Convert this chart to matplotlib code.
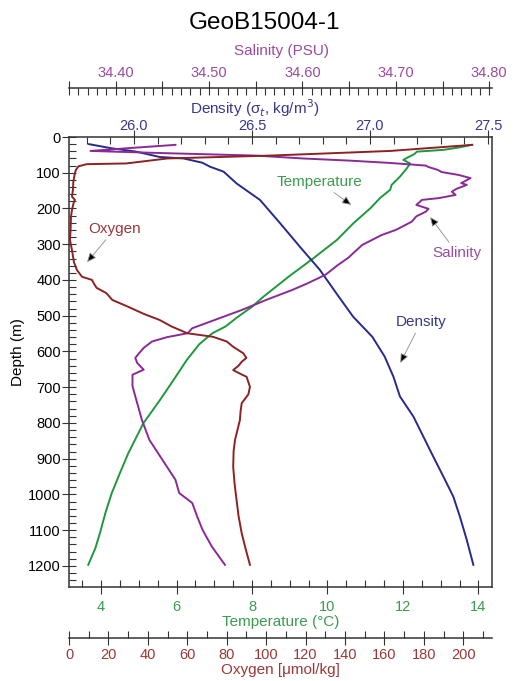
import numpy as np
import matplotlib
matplotlib.use('Agg')
import matplotlib.pyplot as plt
from matplotlib.ticker import MultipleLocator, FormatStrFormatter

plt.rcParams['font.family'] = ['Liberation Sans', 'DejaVu Sans']

# CTD cast GeoB15004-1, values per depth (m)
tem_depth = [22, 29, 36, 41, 48, 56, 64, 74, 88, 111, 134, 148, 170, 200, 241, 288, 339, 390, 447, 475,
             505, 530, 549, 580, 624, 680, 736, 801, 885, 940, 997, 1050, 1108, 1150, 1197]
tem = [13.82, 13.5, 13.07, 12.37, 12.3, 12.15, 12.01, 12.19, 12.1, 11.92, 11.7, 11.66, 11.4, 11.13, 10.69,
       10.25, 9.63, 8.98, 8.30, 8.0, 7.6, 7.3, 6.95, 6.6, 6.27, 5.92, 5.56, 5.12, 4.72, 4.5, 4.28, 4.12,
       3.97, 3.85, 3.66]

sal_depth = [22, 30, 39, 45, 52, 60, 66, 72, 76, 80, 84, 92, 98, 106, 115, 122, 129, 134, 145, 153, 162,
             171, 176, 190, 195, 201, 209, 222, 237, 260, 274, 302, 338, 360, 385, 410, 428, 455, 484, 510,
             535, 549, 560, 572, 590, 605, 618, 632, 651, 665, 697, 735, 791, 847, 903, 959, 996, 1024,
             1060, 1099, 1146, 1197]
sal = [34.464, 34.42, 34.373, 34.45, 34.55, 34.60, 34.65, 34.69, 34.712, 34.732, 34.735, 34.745, 34.749,
       34.767, 34.780, 34.775, 34.770, 34.776, 34.765, 34.760, 34.764, 34.746, 34.728, 34.722, 34.728,
       34.735, 34.732, 34.722, 34.717, 34.700, 34.685, 34.664, 34.649, 34.637, 34.625, 34.605, 34.589,
       34.562, 34.535, 34.508, 34.482, 34.477, 34.455, 34.439, 34.430, 34.425, 34.421, 34.423, 34.430,
       34.418, 34.418, 34.422, 34.428, 34.436, 34.450, 34.464, 34.468, 34.482, 34.487, 34.493, 34.503,
       34.517]

den_depth = [20, 31, 41, 50, 56, 60, 72, 83, 97, 130, 176, 241, 307, 372, 447, 503, 559, 614, 670, 726,
             782, 838, 894, 950, 1006, 1062, 1127, 1197]
den = [25.81, 25.90, 26.01, 26.07, 26.11, 26.21, 26.29, 26.322, 26.38, 26.435, 26.534, 26.619, 26.703,
       26.788, 26.868, 26.929, 27.010, 27.062, 27.099, 27.127, 27.184, 27.226, 27.268, 27.311, 27.353,
       27.381, 27.41, 27.438]

oxy_depth = [22, 30, 39, 45, 52, 60, 68, 74, 76, 82, 92, 101, 125, 148, 167, 176, 181, 204, 223, 260, 288,
             316, 350, 372, 391, 400, 409, 422, 437, 456, 475, 495, 512, 530, 549, 559, 572, 587, 605, 618,
             629, 640, 652, 660, 671, 699, 720, 745, 770, 792, 848, 880, 923, 970, 1015, 1060, 1108, 1150,
             1197]
oxy = [204.6, 185, 163, 135, 102, 50, 38, 29, 9, 4.8, 3.5, 3.0, 2.2, 2.0, 1.5, 3.0, 2.5, 1.5, 1.0, 0.8,
       0.5, 1.5, 2.5, 4.0, 6.6, 11.7, 12.5, 14, 19, 22, 30, 38, 46, 52, 60, 73, 80, 83.3, 88.4, 90, 87.6,
       86, 83.3, 86, 90.1, 91.8, 91, 87.6, 87, 86.7, 84.2, 83.5, 83.3, 84, 85, 86, 87.6, 89.5, 91.8]

sal_c, sal_t = '#8a2a96', '#9a4c9e'
den_c, den_t = '#262a8c', '#38388c'
tem_c, tem_t = '#1f973c', '#3b9c50'
oxy_c, oxy_t = '#8c2224', '#9a3838'
ink = '#333333'

W, H = 514, 681
fig = plt.figure(figsize=(W / 100, H / 100), dpi=100)
ax = fig.add_axes([69 / W, 1 - 587 / H, 423 / W, 450 / H])

ax_d = ax.twiny()
ax_s = ax.twiny()
ax_o = ax.twiny()

lw = 1.4
ax.plot(tem, tem_depth, color=tem_c, lw=lw)
ax_d.plot(den, den_depth, color=den_c, lw=lw)
ax_s.plot(sal, sal_depth, color=sal_c, lw=lw)
ax_o.plot(oxy, oxy_depth, color=oxy_c, lw=lw)

ax.set_ylim(1259, 0)
ax.set_xlim(3.15, 14.36)
ax_d.set_xlim(25.725, 27.517)
ax_s.set_xlim(34.35, 34.803)
ax_o.set_xlim(0, 214.6)

for a in (ax, ax_d, ax_s, ax_o):
    for s in a.spines.values():
        s.set_color(ink)
        s.set_linewidth(1.1)

ax.spines['top'].set_visible(False)
for k in ('left', 'right', 'bottom'):
    ax_d.spines[k].set_visible(False)
for k in ('left', 'right', 'bottom'):
    ax_s.spines[k].set_visible(False)
ax_s.spines['top'].set_position(('outward', 35.3))
for k in ('left', 'right', 'top'):
    ax_o.spines[k].set_visible(False)
ax_o.spines['bottom'].set_visible(True)
ax_o.spines['bottom'].set_position(('outward', 36.7))
ax_o.xaxis.set_ticks_position('bottom')

# depth / temperature
ax.yaxis.set_major_locator(MultipleLocator(100))
ax.yaxis.set_minor_locator(MultipleLocator(20))
ax.xaxis.set_major_locator(MultipleLocator(2))
ax.xaxis.set_minor_locator(MultipleLocator(0.5))
ax.tick_params(axis='both', which='major', direction='inout', length=9.4, width=0.8, color=ink,
               labelsize=10.5)
ax.tick_params(axis='both', which='minor', direction='in', length=5, width=0.8, color=ink)
ax.tick_params(axis='x', which='major', pad=4.4, labelcolor=tem_t)
ax.tick_params(axis='y', which='major', pad=1.1)
ax.tick_params(top=False, right=False, which='both')

# density
ax_d.xaxis.set_major_locator(MultipleLocator(0.5))
ax_d.xaxis.set_minor_locator(MultipleLocator(0.1))
ax_d.xaxis.set_major_formatter(FormatStrFormatter('%.1f'))
ax_d.tick_params(axis='x', which='major', direction='inout', length=9.4, width=0.8, color=ink,
                 labelsize=10.5, labelcolor=den_t, pad=-1.5)
ax_d.tick_params(axis='x', which='minor', direction='in', length=5, width=0.8, color=ink)

# salinity
sal_ticks = np.round(np.arange(34.35, 34.801, 0.05), 2)
ax_s.set_xticks(sal_ticks)
ax_s.set_xticklabels(['%.2f' % v if round(v * 100) % 10 == 0 else '' for v in sal_ticks])
ax_s.xaxis.set_minor_locator(MultipleLocator(0.01))
ax_s.tick_params(axis='x', which='major', direction='inout', length=9.4, width=0.8, color=ink,
                 labelsize=10.5, labelcolor=sal_t, pad=0.8)
ax_s.tick_params(axis='x', which='minor', direction='in', length=5, width=0.8, color=ink)

# oxygen
ax_o.xaxis.set_major_locator(MultipleLocator(20))
ax_o.xaxis.set_minor_locator(MultipleLocator(10))
ax_o.tick_params(axis='x', which='major', direction='inout', length=9.4, width=0.8, color=ink,
                 labelsize=10.5, labelcolor=oxy_t, pad=2.3)
ax_o.tick_params(axis='x', which='minor', direction='in', length=5, width=0.8, color=ink)

# axis titles
def ftext(x, y, s, **kw):
    fig.text(x / W, 1 - y / H, s, ha='center', va='center', **kw)

ftext(264, 23, 'GeoB15004-1', fontsize=17.5, color='black')
ftext(281, 51, 'Salinity (PSU)', fontsize=11, color=sal_t)
ftext(255, 108, r'Density (σ$_t$, kg/m$^3$)', fontsize=11, color=den_t)
ftext(281, 622, 'Temperature (°C)', fontsize=11, color=tem_t)
ftext(280, 670, 'Oxygen [μmol/kg]', fontsize=11, color=oxy_t)
ftext(18, 352, 'Depth (m)', fontsize=11, color='black', rotation=90)

# curve labels
arrow = dict(arrowstyle='-|>,head_length=0.5,head_width=0.22', edgecolor='#8a8a8a',
             facecolor='black', lw=0.6, shrinkA=1, shrinkB=0)
ax.annotate('Temperature', xy=(10.63, 190), xytext=(9.78, 126), ha='center', va='center',
            color=tem_t, fontsize=11, arrowprops=arrow)
ax.annotate('Salinity', xy=(12.72, 224), xytext=(13.44, 325), ha='center', va='center',
            color=sal_t, fontsize=11, arrowprops=arrow)
ax.annotate('Oxygen', xy=(3.63, 350), xytext=(4.37, 257), ha='center', va='center',
            color=oxy_t, fontsize=11, arrowprops=arrow)
ax.annotate('Density', xy=(11.93, 632), xytext=(12.48, 518), ha='center', va='center',
            color=den_t, fontsize=11, arrowprops=arrow)

fig.savefig('out.png', dpi=100)
